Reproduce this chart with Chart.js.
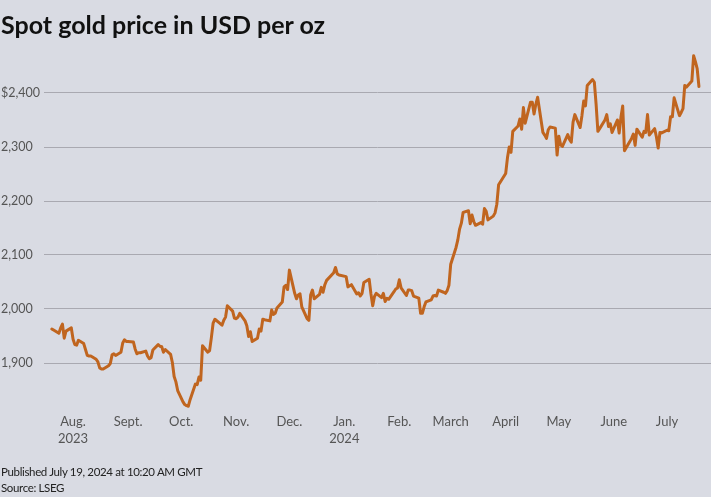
<!DOCTYPE html>
<html>
<head>
<meta charset="utf-8">
<script src="https://cdn.jsdelivr.net/npm/chart.js@4.4.1/dist/chart.umd.min.js"></script>
<style>
  html, body { margin: 0; padding: 0; background: #d9dbe3; width: 711px; height: 497px; overflow: hidden; }
  #wrap { position: relative; width: 711px; height: 497px; }
  #c { position: absolute; left: 0; top: 0; }
  #title { position: absolute; left: 1px; top: 9px; font-family: Lato, sans-serif; font-weight: 700; font-size: 25px; line-height: 30px; color: #111; white-space: nowrap; }
  .foot { position: absolute; left: 1px; font-family: Lato, sans-serif; font-size: 11.5px; line-height: 16px; letter-spacing: -0.35px; color: #222; white-space: nowrap; }
</style>
</head>
<body>
<div id="wrap">
  <canvas id="c" width="711" height="497"></canvas>
  <div id="title">Spot gold price in USD per oz</div>
  <div class="foot" style="top:464px">Published July 19, 2024 at 10:20 AM GMT</div>
  <div class="foot" style="top:480px">Source: LSEG</div>
</div>
<script>
const dates = [
"2023-07-20","2023-07-21","2023-07-24","2023-07-25","2023-07-26","2023-07-27","2023-07-28","2023-07-31",
"2023-08-01","2023-08-02","2023-08-03","2023-08-04","2023-08-07","2023-08-08","2023-08-09","2023-08-10","2023-08-11",
"2023-08-14","2023-08-15","2023-08-16","2023-08-17","2023-08-18","2023-08-21","2023-08-22","2023-08-23","2023-08-24","2023-08-25",
"2023-08-28","2023-08-29","2023-08-30","2023-08-31","2023-09-01","2023-09-04","2023-09-05","2023-09-06","2023-09-07","2023-09-08",
"2023-09-11","2023-09-12","2023-09-13","2023-09-14","2023-09-15","2023-09-18","2023-09-19","2023-09-20","2023-09-21","2023-09-22",
"2023-09-25","2023-09-26","2023-09-27","2023-09-28","2023-09-29","2023-10-02","2023-10-03","2023-10-04","2023-10-05","2023-10-06",
"2023-10-09","2023-10-10","2023-10-11","2023-10-12","2023-10-13","2023-10-16","2023-10-17","2023-10-18","2023-10-19","2023-10-20",
"2023-10-23","2023-10-24","2023-10-25","2023-10-26","2023-10-27","2023-10-30","2023-10-31","2023-11-01","2023-11-02","2023-11-03",
"2023-11-06","2023-11-07","2023-11-08","2023-11-09","2023-11-10","2023-11-13","2023-11-14","2023-11-15","2023-11-16","2023-11-17",
"2023-11-20","2023-11-21","2023-11-22","2023-11-23","2023-11-24","2023-11-27","2023-11-28","2023-11-29","2023-11-30","2023-12-01",
"2023-12-04","2023-12-05","2023-12-06","2023-12-07","2023-12-08","2023-12-11","2023-12-12","2023-12-13","2023-12-14","2023-12-15",
"2023-12-18","2023-12-19","2023-12-20","2023-12-21","2023-12-22","2023-12-26","2023-12-27","2023-12-28","2023-12-29",
"2024-01-02","2024-01-03","2024-01-04","2024-01-05","2024-01-08","2024-01-09","2024-01-10","2024-01-11","2024-01-12",
"2024-01-15","2024-01-16","2024-01-17","2024-01-18","2024-01-19","2024-01-22","2024-01-23","2024-01-24","2024-01-25","2024-01-26",
"2024-01-29","2024-01-30","2024-01-31","2024-02-01","2024-02-02","2024-02-05","2024-02-06","2024-02-07","2024-02-08","2024-02-09",
"2024-02-12","2024-02-13","2024-02-14","2024-02-15","2024-02-16","2024-02-19","2024-02-20","2024-02-21","2024-02-22","2024-02-23",
"2024-02-26","2024-02-27","2024-02-28","2024-02-29","2024-03-01","2024-03-04","2024-03-05","2024-03-06","2024-03-07","2024-03-08",
"2024-03-11","2024-03-12","2024-03-13","2024-03-14","2024-03-15","2024-03-18","2024-03-19","2024-03-20","2024-03-21","2024-03-22",
"2024-03-25","2024-03-26","2024-03-27","2024-03-28","2024-04-01","2024-04-02","2024-04-03","2024-04-04","2024-04-05",
"2024-04-08","2024-04-09","2024-04-10","2024-04-11","2024-04-12","2024-04-15","2024-04-16","2024-04-17","2024-04-18","2024-04-19",
"2024-04-22","2024-04-23","2024-04-24","2024-04-25","2024-04-26","2024-04-29","2024-04-30","2024-05-01","2024-05-02","2024-05-03",
"2024-05-06","2024-05-07","2024-05-08","2024-05-09","2024-05-10","2024-05-13","2024-05-14","2024-05-15","2024-05-16","2024-05-17",
"2024-05-20","2024-05-21","2024-05-22","2024-05-23","2024-05-24","2024-05-27","2024-05-28","2024-05-29","2024-05-30","2024-05-31",
"2024-06-03","2024-06-04","2024-06-05","2024-06-06","2024-06-07","2024-06-10","2024-06-11","2024-06-12","2024-06-13","2024-06-14",
"2024-06-17","2024-06-18","2024-06-19","2024-06-20","2024-06-21","2024-06-24","2024-06-25","2024-06-26","2024-06-27","2024-06-28",
"2024-07-01","2024-07-02","2024-07-03","2024-07-04","2024-07-05","2024-07-08","2024-07-09","2024-07-10","2024-07-11","2024-07-12",
"2024-07-15","2024-07-16","2024-07-17","2024-07-18","2024-07-19"
];
const prices = [
1963,1961,1955,1965,1972,1946,1959,1965,
1944,1934,1933,1942,1936,1925,1914,1913,1913,
1907,1902,1891,1889,1889,1895,1899,1915,1917,1914,
1920,1937,1943,1940,1940,1939,1926,1917,1919,1919,
1922,1913,1908,1910,1924,1934,1931,1930,1920,1925,
1916,1901,1875,1865,1849,1828,1823,1821,1820,1832,
1861,1860,1874,1868,1932,1920,1923,1947,1974,1981,
1973,1970,1979,1985,2006,1996,1983,1982,1985,1992,
1978,1969,1949,1958,1940,1946,1963,1959,1981,1980,
1978,1998,1990,1992,2002,2013,2041,2044,2036,2072,
2029,2019,2026,2028,2004,1982,1979,2026,2035,2019,
2027,2040,2031,2045,2053,2067,2077,2065,2063,
2060,2041,2043,2045,2028,2030,2024,2029,2049,
2055,2028,2006,2023,2029,2021,2029,2014,2020,2018,
2032,2037,2039,2054,2039,2025,2035,2035,2034,2024,
2020,1992,1992,2004,2013,2017,2024,2025,2024,2035,
2031,2029,2034,2044,2083,2114,2128,2148,2159,2179,
2182,2158,2174,2162,2155,2160,2157,2186,2181,2165,
2172,2178,2194,2230,2251,2280,2300,2290,2329,
2339,2352,2333,2373,2344,2383,2383,2361,2379,2392,
2327,2322,2316,2332,2337,2335,2285,2320,2304,2301,
2323,2314,2309,2346,2360,2336,2358,2385,2376,2414,
2425,2420,2379,2329,2334,2350,2360,2338,2343,2327,
2350,2326,2355,2376,2293,2310,2316,2324,2303,2333,
2318,2329,2327,2360,2322,2334,2319,2298,2327,2326,
2331,2330,2356,2356,2391,2358,2364,2371,2414,2411,
2422,2469,2458,2445,2412
];
const monthStarts = ["2023-08-01","2023-09-01","2023-10-01","2023-11-01","2023-12-01","2024-01-01","2024-02-01","2024-03-01","2024-04-01","2024-05-01","2024-06-01","2024-07-01"];
const monthLabels = [["Aug.","2023"],"Sept.","Oct.","Nov.","Dec.",["Jan.","2024"],"Feb.","March","April","May","June","July"];
const yTickValues = [1900,2000,2100,2200,2300,2400];
const yTickLabels = ["1,900","2,000","2,100","2,200","2,300","$2,400"];

const DAY = 86400000;
const origin = Date.UTC(2023,7,1);
const toDay = s => { const p = s.split("-").map(Number); return (Date.UTC(p[0], p[1]-1, p[2]) - origin) / DAY; };
const points = dates.map((d, i) => ({ x: toDay(d), y: prices[i] }));
const monthDays = monthStarts.map(toDay);

new Chart(document.getElementById("c"), {
  type: "line",
  data: { datasets: [{
    data: points,
    borderColor: "#c0651f",
    borderWidth: 3,
    pointRadius: 0,
    tension: 0,
    borderJoinStyle: "round",
    borderCapStyle: "round"
  }]},
  options: {
    responsive: false,
    animation: false,
    events: [],
    layout: { padding: { left: 1, right: 0, top: 44.4, bottom: 45.4 } },
    plugins: { legend: { display: false }, tooltip: { enabled: false } },
    scales: {
      x: {
        type: "linear",
        min: -16.4,
        max: 359.8,
        afterBuildTicks: s => { s.ticks = monthDays.map(v => ({ value: v })); },
        afterFit: s => { s.height = 40; },
        grid: { display: false, drawTicks: false },
        border: { display: false },
        ticks: {
          autoSkip: false,
          maxRotation: 0,
          padding: 1,
          color: "#555",
          font: { family: "Lato", size: 13, lineHeight: 1.35 },
          callback: (v, i) => monthLabels[i]
        }
      },
      y: {
        min: 1810,
        max: 2490,
        afterBuildTicks: s => { s.ticks = yTickValues.map(v => ({ value: v })); },
        afterFit: s => { s.width = 43; },
        grid: { color: "#a9a9b1", lineWidth: 1, drawTicks: false },
        border: { display: false },
        ticks: {
          crossAlign: "far",
          padding: 0,
          color: "#555",
          font: { family: "Lato", size: 12.5 },
          callback: (v) => yTickLabels[yTickValues.indexOf(v)]
        }
      }
    }
  }
});
</script>
</body>
</html>
